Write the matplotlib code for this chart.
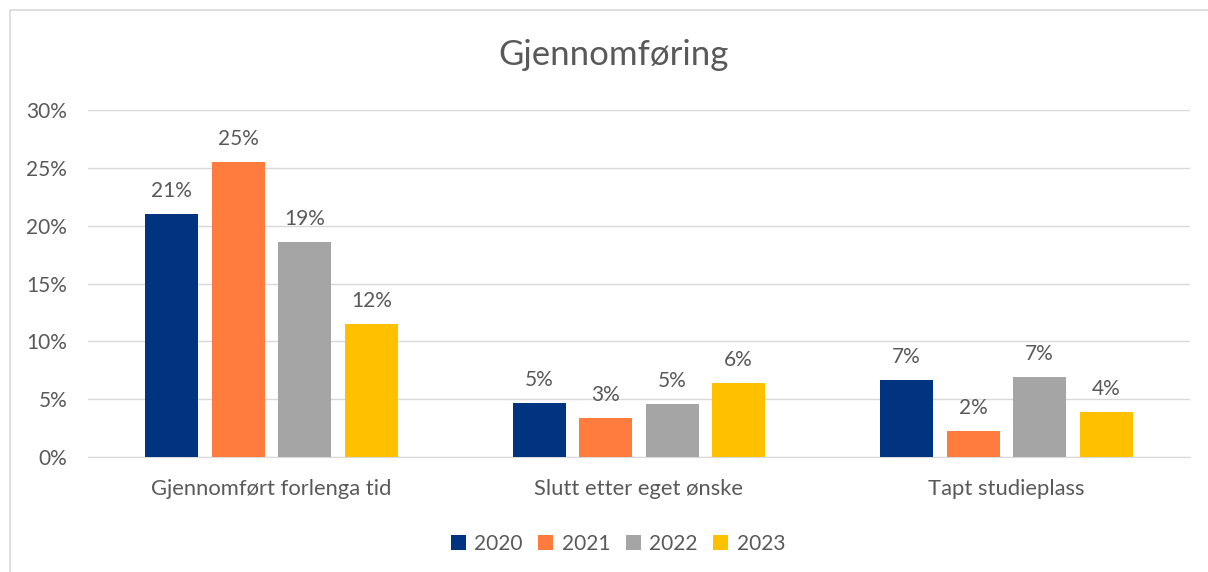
import numpy as np
import matplotlib
matplotlib.use("Agg")
import matplotlib.pyplot as plt
from matplotlib.patches import Rectangle

plt.rcParams['font.family'] = ['Lato', 'DejaVu Sans']

categories = ["Gjennomført forlenga tid", "Slutt etter eget ønske", "Tapt studieplass"]
years = ["2020", "2021", "2022", "2023"]
v2020 = [21.0, 4.7, 6.65]
v2021 = [25.5, 3.4, 2.25]
v2022 = [18.6, 4.6, 6.9]
v2023 = [11.5, 6.4, 3.9]
labels2020 = ["21%", "5%", "7%"]
labels2021 = ["25%", "3%", "2%"]
labels2022 = ["19%", "5%", "7%"]
labels2023 = ["12%", "6%", "4%"]

colors = ["#003380", "#FF7C3E", "#A5A5A5", "#FFC000"]
txt = "#595959"
fs = 15

fig = plt.figure(figsize=(12.08, 5.72), dpi=100)
# outer chart border
fig.add_artist(Rectangle((10 / 1208, -0.01), 1.1, 1 - 10 / 572 + 0.01,
                         transform=fig.transFigure, fill=False,
                         edgecolor="#D9D9D9", linewidth=1.2))

ax = fig.add_axes([88 / 1208, 1 - 457 / 572, (1190 - 88) / 1208, (457 - 110) / 572])

x = np.arange(len(categories))
width = 0.144
step = 0.181
series = [v2020, v2021, v2022, v2023]
labs = [labels2020, labels2021, labels2022, labels2023]
for i, (vals, lab) in enumerate(zip(series, labs)):
    pos = x + (i - 1.5) * step
    bars = ax.bar(pos, vals, width, color=colors[i], label=years[i], zorder=3)
    for b, l in zip(bars, lab):
        ax.text(b.get_x() + b.get_width() / 2, b.get_height() + 1.1, l,
                ha="center", va="bottom", fontsize=fs, color=txt)

ax.set_xlim(-0.5, 2.5)
ax.set_ylim(0, 30)
ax.set_yticks(range(0, 31, 5))
ax.set_yticklabels([f"{t}%" for t in range(0, 31, 5)])
ax.set_xticks(x)
ax.set_xticklabels(categories)
ax.tick_params(axis="both", length=0, labelsize=fs, labelcolor=txt)
ax.tick_params(axis="x", labelsize=15.8, pad=16)
ax.tick_params(axis="y", pad=15)
ax.grid(axis="y", color="#D9D9D9", linewidth=1, zorder=0)
for s in ["top", "right", "left"]:
    ax.spines[s].set_visible(False)
ax.spines["bottom"].set_color("#D9D9D9")

fig.text(614 / 1208, 1 - 55 / 572, "Gjennomføring", ha="center", va="center",
         fontsize=25, color=txt)

ax.legend(loc="center", bbox_to_anchor=(0.481, -0.25), ncol=4, frameon=False,
          fontsize=fs, labelcolor=txt, handlelength=0.72, handleheight=0.72,
          handletextpad=0.4, columnspacing=0.75)

fig.savefig("out.png", dpi=100)
